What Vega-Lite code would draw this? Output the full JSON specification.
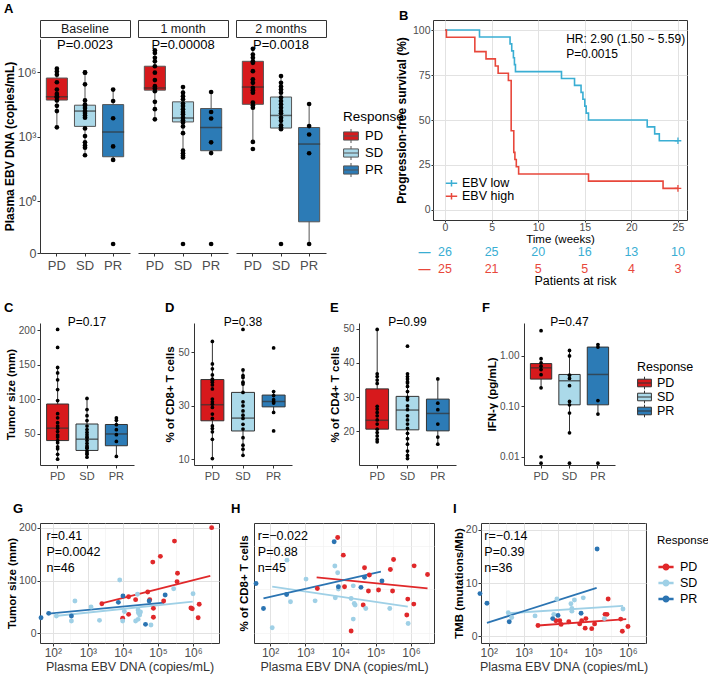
{
"$schema": "https://vega.github.io/schema/vega-lite/v6.json",
"padding": {"left": 3, "top": 2, "right": 0, "bottom": 2},
"config": {
 "font": "Liberation Sans",
 "view": {"stroke": null},
 "axis": {"labelColor": "#4D4D4D", "labelFontSize": 11, "tickColor": "#333333", "domainColor": "#333333", "tickSize": 3, "grid": false, "titleFontSize": 12, "titleFontWeight": "bold", "titleColor": "#000000"},
 "title": {"fontSize": 13, "fontWeight": "bold", "anchor": "start", "color": "#000000"},
 "legend": {"titleFontWeight": "normal", "titleColor": "#000000", "labelColor": "#000000"}
},
"resolve": {"scale": {"color": "independent", "fill": "independent"}, "legend": {"color": "independent", "fill": "independent"}},
"datasets": {
 "box": [
  {"panel":"Baseline","response":"PD","lo":2800,"q1":52000,"med":74000,"q3":550000,"hi":1500000},
  {"panel":"Baseline","response":"SD","lo":145,"q1":3100,"med":16000,"q3":30000,"hi":1000000},
  {"panel":"Baseline","response":"PR","lo":85,"q1":120,"med":1700,"q3":32000,"hi":160000},
  {"panel":"1 month","response":"PD","lo":6600,"q1":150000,"med":190000,"q3":1950000,"hi":10700000},
  {"panel":"1 month","response":"SD","lo":112,"q1":5000,"med":7600,"q3":43000,"hi":210000},
  {"panel":"1 month","response":"PR","lo":178,"q1":229,"med":2750,"q3":21000,"hi":123000},
  {"panel":"2 months","response":"PD","lo":590,"q1":33000,"med":210000,"q3":3300000,"hi":12600000},
  {"panel":"2 months","response":"SD","lo":2300,"q1":2600,"med":10000,"q3":72000,"hi":680000},
  {"panel":"2 months","response":"PR","lo":0.0065,"q1":0.109,"med":468,"q3":2750,"hi":36000},
  {"panel":"C","response":"PD","lo":13,"q1":40,"med":58,"q3":93,"hi":146},
  {"panel":"C","response":"SD","lo":16,"q1":25.7,"med":42,"q3":64,"hi":101},
  {"panel":"C","response":"PR","lo":17,"q1":32.5,"med":49.6,"q3":63.3,"hi":72.8},
  {"panel":"D","response":"PD","lo":10.3,"q1":24.4,"med":30.4,"q3":39.8,"hi":54},
  {"panel":"D","response":"SD","lo":11.5,"q1":20.6,"med":25.4,"q3":35,"hi":43.4},
  {"panel":"D","response":"PR","lo":27.5,"q1":29.6,"med":31.6,"q3":34,"hi":35.3},
  {"panel":"E","response":"PD","lo":16.9,"q1":20.6,"med":23.2,"q3":32.4,"hi":49.8},
  {"panel":"E","response":"SD","lo":12,"q1":20.4,"med":26.2,"q3":30.2,"hi":36.8},
  {"panel":"E","response":"PR","lo":16.2,"q1":20.1,"med":25.2,"q3":29.4,"hi":35.3},
  {"panel":"F","response":"PD","lo":0.226,"q1":0.343,"med":0.574,"q3":0.697,"hi":0.87},
  {"panel":"F","response":"SD","lo":0.0296,"q1":0.106,"med":0.318,"q3":0.424,"hi":1.27},
  {"panel":"F","response":"PR","lo":0.0697,"q1":0.106,"med":0.424,"q3":1.48,"hi":1.66}
 ],
 "pts": [
  {"panel":"Baseline","response":"PD","v":1500000},{"panel":"Baseline","response":"PD","v":1100000},{"panel":"Baseline","response":"PD","v":790000},{"panel":"Baseline","response":"PD","v":350000},{"panel":"Baseline","response":"PD","v":160000},{"panel":"Baseline","response":"PD","v":100000},{"panel":"Baseline","response":"PD","v":79000},{"panel":"Baseline","response":"PD","v":71000},{"panel":"Baseline","response":"PD","v":50000},{"panel":"Baseline","response":"PD","v":28000},{"panel":"Baseline","response":"PD","v":16000},{"panel":"Baseline","response":"PD","v":2800},
  {"panel":"Baseline","response":"SD","v":1000000},{"panel":"Baseline","response":"SD","v":980000},{"panel":"Baseline","response":"SD","v":280000},{"panel":"Baseline","response":"SD","v":50000},{"panel":"Baseline","response":"SD","v":32000},{"panel":"Baseline","response":"SD","v":28000},{"panel":"Baseline","response":"SD","v":22000},{"panel":"Baseline","response":"SD","v":16000},{"panel":"Baseline","response":"SD","v":13000},{"panel":"Baseline","response":"SD","v":10000},{"panel":"Baseline","response":"SD","v":7900},{"panel":"Baseline","response":"SD","v":2500},{"panel":"Baseline","response":"SD","v":1100},{"panel":"Baseline","response":"SD","v":560},{"panel":"Baseline","response":"SD","v":400},{"panel":"Baseline","response":"SD","v":316},{"panel":"Baseline","response":"SD","v":141},
  {"panel":"Baseline","response":"PR","v":160000},{"panel":"Baseline","response":"PR","v":47000},{"panel":"Baseline","response":"PR","v":7400},{"panel":"Baseline","response":"PR","v":363},{"panel":"Baseline","response":"PR","v":85},{"panel":"Baseline","response":"PR","v":0.0065},
  {"panel":"1 month","response":"PD","v":10700000},{"panel":"1 month","response":"PD","v":8100000},{"panel":"1 month","response":"PD","v":4800000},{"panel":"1 month","response":"PD","v":3300000},{"panel":"1 month","response":"PD","v":1950000},{"panel":"1 month","response":"PD","v":980000},{"panel":"1 month","response":"PD","v":440000},{"panel":"1 month","response":"PD","v":230000},{"panel":"1 month","response":"PD","v":180000},{"panel":"1 month","response":"PD","v":135000},{"panel":"1 month","response":"PD","v":43000},{"panel":"1 month","response":"PD","v":19500},{"panel":"1 month","response":"PD","v":6600},
  {"panel":"1 month","response":"SD","v":210000},{"panel":"1 month","response":"SD","v":115000},{"panel":"1 month","response":"SD","v":79000},{"panel":"1 month","response":"SD","v":56000},{"panel":"1 month","response":"SD","v":36000},{"panel":"1 month","response":"SD","v":27500},{"panel":"1 month","response":"SD","v":19500},{"panel":"1 month","response":"SD","v":14500},{"panel":"1 month","response":"SD","v":11500},{"panel":"1 month","response":"SD","v":7900},{"panel":"1 month","response":"SD","v":6000},{"panel":"1 month","response":"SD","v":4700},{"panel":"1 month","response":"SD","v":3100},{"panel":"1 month","response":"SD","v":1500},{"panel":"1 month","response":"SD","v":229},{"panel":"1 month","response":"SD","v":174},{"panel":"1 month","response":"SD","v":135},{"panel":"1 month","response":"SD","v":112},{"panel":"1 month","response":"SD","v":0.0065},
  {"panel":"1 month","response":"PR","v":123000},{"panel":"1 month","response":"PR","v":14500},{"panel":"1 month","response":"PR","v":7200},{"panel":"1 month","response":"PR","v":562},{"panel":"1 month","response":"PR","v":178},{"panel":"1 month","response":"PR","v":0.0065},
  {"panel":"2 months","response":"PD","v":12600000},{"panel":"2 months","response":"PD","v":6800000},{"panel":"2 months","response":"PD","v":4800000},{"panel":"2 months","response":"PD","v":3300000},{"panel":"2 months","response":"PD","v":2800000},{"panel":"2 months","response":"PD","v":1150000},{"panel":"2 months","response":"PD","v":480000},{"panel":"2 months","response":"PD","v":330000},{"panel":"2 months","response":"PD","v":195000},{"panel":"2 months","response":"PD","v":150000},{"panel":"2 months","response":"PD","v":115000},{"panel":"2 months","response":"PD","v":40000},{"panel":"2 months","response":"PD","v":30000},{"panel":"2 months","response":"PD","v":23000},{"panel":"2 months","response":"PD","v":590},{"panel":"2 months","response":"PD","v":275},
  {"panel":"2 months","response":"SD","v":680000},{"panel":"2 months","response":"SD","v":330000},{"panel":"2 months","response":"SD","v":220000},{"panel":"2 months","response":"SD","v":160000},{"panel":"2 months","response":"SD","v":115000},{"panel":"2 months","response":"SD","v":68000},{"panel":"2 months","response":"SD","v":47000},{"panel":"2 months","response":"SD","v":33000},{"panel":"2 months","response":"SD","v":23000},{"panel":"2 months","response":"SD","v":16000},{"panel":"2 months","response":"SD","v":12600},{"panel":"2 months","response":"SD","v":7900},{"panel":"2 months","response":"SD","v":5600},{"panel":"2 months","response":"SD","v":3500},{"panel":"2 months","response":"SD","v":2750},{"panel":"2 months","response":"SD","v":2300},{"panel":"2 months","response":"SD","v":0.0065},
  {"panel":"2 months","response":"PR","v":34000},{"panel":"2 months","response":"PR","v":3200},{"panel":"2 months","response":"PR","v":1300},{"panel":"2 months","response":"PR","v":174},{"panel":"2 months","response":"PR","v":0.0065},
  {"panel":"C","response":"PD","v":201},{"panel":"C","response":"PD","v":175},{"panel":"C","response":"PD","v":146},{"panel":"C","response":"PD","v":138},{"panel":"C","response":"PD","v":128},{"panel":"C","response":"PD","v":114},{"panel":"C","response":"PD","v":98},{"panel":"C","response":"PD","v":79},{"panel":"C","response":"PD","v":73},{"panel":"C","response":"PD","v":66},{"panel":"C","response":"PD","v":61},{"panel":"C","response":"PD","v":58},{"panel":"C","response":"PD","v":53},{"panel":"C","response":"PD","v":48},{"panel":"C","response":"PD","v":45},{"panel":"C","response":"PD","v":40},{"panel":"C","response":"PD","v":37},{"panel":"C","response":"PD","v":31},{"panel":"C","response":"PD","v":28},{"panel":"C","response":"PD","v":20},{"panel":"C","response":"PD","v":13},
  {"panel":"C","response":"SD","v":101},{"panel":"C","response":"SD","v":85},{"panel":"C","response":"SD","v":76},{"panel":"C","response":"SD","v":69},{"panel":"C","response":"SD","v":61},{"panel":"C","response":"SD","v":56},{"panel":"C","response":"SD","v":52},{"panel":"C","response":"SD","v":48.5},{"panel":"C","response":"SD","v":45},{"panel":"C","response":"SD","v":44},{"panel":"C","response":"SD","v":40},{"panel":"C","response":"SD","v":36},{"panel":"C","response":"SD","v":32.5},{"panel":"C","response":"SD","v":30},{"panel":"C","response":"SD","v":29},{"panel":"C","response":"SD","v":25},{"panel":"C","response":"SD","v":22},{"panel":"C","response":"SD","v":20},{"panel":"C","response":"SD","v":16},
  {"panel":"C","response":"PR","v":72.8},{"panel":"C","response":"PR","v":69.4},{"panel":"C","response":"PR","v":63.1},{"panel":"C","response":"PR","v":55.8},{"panel":"C","response":"PR","v":48.5},{"panel":"C","response":"PR","v":38.8},{"panel":"C","response":"PR","v":17},
  {"panel":"D","response":"PD","v":54},{"panel":"D","response":"PD","v":45.6},{"panel":"D","response":"PD","v":43.8},{"panel":"D","response":"PD","v":41.5},{"panel":"D","response":"PD","v":40},{"panel":"D","response":"PD","v":39.5},{"panel":"D","response":"PD","v":38.8},{"panel":"D","response":"PD","v":37.8},{"panel":"D","response":"PD","v":36.3},{"panel":"D","response":"PD","v":32.5},{"panel":"D","response":"PD","v":31.5},{"panel":"D","response":"PD","v":30.6},{"panel":"D","response":"PD","v":29.4},{"panel":"D","response":"PD","v":26.9},{"panel":"D","response":"PD","v":25.3},{"panel":"D","response":"PD","v":22.5},{"panel":"D","response":"PD","v":21.5},{"panel":"D","response":"PD","v":20.3},{"panel":"D","response":"PD","v":17.5},{"panel":"D","response":"PD","v":10.3},
  {"panel":"D","response":"SD","v":58.5},{"panel":"D","response":"SD","v":43.4},{"panel":"D","response":"SD","v":41.3},{"panel":"D","response":"SD","v":40.6},{"panel":"D","response":"SD","v":38.8},{"panel":"D","response":"SD","v":38.1},{"panel":"D","response":"SD","v":35},{"panel":"D","response":"SD","v":31.5},{"panel":"D","response":"SD","v":30},{"panel":"D","response":"SD","v":28.1},{"panel":"D","response":"SD","v":26.5},{"panel":"D","response":"SD","v":25.3},{"panel":"D","response":"SD","v":23.1},{"panel":"D","response":"SD","v":21.3},{"panel":"D","response":"SD","v":18.1},{"panel":"D","response":"SD","v":15.3},{"panel":"D","response":"SD","v":13.8},{"panel":"D","response":"SD","v":11.5},
  {"panel":"D","response":"PR","v":51.6},{"panel":"D","response":"PR","v":35.3},{"panel":"D","response":"PR","v":33.8},{"panel":"D","response":"PR","v":32.3},{"panel":"D","response":"PR","v":31.5},{"panel":"D","response":"PR","v":31},{"panel":"D","response":"PR","v":27.5},{"panel":"D","response":"PR","v":20.6},
  {"panel":"E","response":"PD","v":49.8},{"panel":"E","response":"PD","v":36.8},{"panel":"E","response":"PD","v":36},{"panel":"E","response":"PD","v":35},{"panel":"E","response":"PD","v":34},{"panel":"E","response":"PD","v":27.3},{"panel":"E","response":"PD","v":26.5},{"panel":"E","response":"PD","v":25.5},{"panel":"E","response":"PD","v":24.5},{"panel":"E","response":"PD","v":23.3},{"panel":"E","response":"PD","v":22.1},{"panel":"E","response":"PD","v":20.6},{"panel":"E","response":"PD","v":19.6},{"panel":"E","response":"PD","v":18.6},{"panel":"E","response":"PD","v":17.6},{"panel":"E","response":"PD","v":16.9},
  {"panel":"E","response":"SD","v":44.9},{"panel":"E","response":"SD","v":36.8},{"panel":"E","response":"SD","v":36},{"panel":"E","response":"SD","v":35.3},{"panel":"E","response":"SD","v":34.5},{"panel":"E","response":"SD","v":34.1},{"panel":"E","response":"SD","v":33.1},{"panel":"E","response":"SD","v":31.6},{"panel":"E","response":"SD","v":29.9},{"panel":"E","response":"SD","v":29.2},{"panel":"E","response":"SD","v":27.4},{"panel":"E","response":"SD","v":26.3},{"panel":"E","response":"SD","v":24.5},{"panel":"E","response":"SD","v":23.3},{"panel":"E","response":"SD","v":22.1},{"panel":"E","response":"SD","v":20.8},{"panel":"E","response":"SD","v":19.4},{"panel":"E","response":"SD","v":17.8},{"panel":"E","response":"SD","v":16.2},{"panel":"E","response":"SD","v":14.2},{"panel":"E","response":"SD","v":12.9},{"panel":"E","response":"SD","v":12},
  {"panel":"E","response":"PR","v":35.3},{"panel":"E","response":"PR","v":28.2},{"panel":"E","response":"PR","v":26.3},{"panel":"E","response":"PR","v":22.1},{"panel":"E","response":"PR","v":18.3},{"panel":"E","response":"PR","v":16.2},
  {"panel":"F","response":"PD","v":3.13},{"panel":"F","response":"PD","v":0.87},{"panel":"F","response":"PD","v":0.72},{"panel":"F","response":"PD","v":0.62},{"panel":"F","response":"PD","v":0.53},{"panel":"F","response":"PD","v":0.42},{"panel":"F","response":"PD","v":0.23},{"panel":"F","response":"PD","v":0.0099},{"panel":"F","response":"PD","v":0.0074},
  {"panel":"F","response":"SD","v":1.27},{"panel":"F","response":"SD","v":0.986},{"panel":"F","response":"SD","v":0.411},{"panel":"F","response":"SD","v":0.354},{"panel":"F","response":"SD","v":0.254},{"panel":"F","response":"SD","v":0.124},{"panel":"F","response":"SD","v":0.106},{"panel":"F","response":"SD","v":0.073},{"panel":"F","response":"SD","v":0.0296},{"panel":"F","response":"SD","v":0.0074},
  {"panel":"F","response":"PR","v":1.66},{"panel":"F","response":"PR","v":1.48},{"panel":"F","response":"PR","v":0.129},{"panel":"F","response":"PR","v":0.0697},{"panel":"F","response":"PR","v":0.0074}
 ],
 "km": [
  {"group":"EBV low","t":0,"s":100},{"group":"EBV low","t":3.7,"s":96.15},{"group":"EBV low","t":6.98,"s":92.31},{"group":"EBV low","t":7.16,"s":88.46},{"group":"EBV low","t":7.34,"s":84.62},{"group":"EBV low","t":7.45,"s":80.77},{"group":"EBV low","t":7.56,"s":76.92},{"group":"EBV low","t":12.5,"s":73.08},{"group":"EBV low","t":13.9,"s":69.23},{"group":"EBV low","t":14.6,"s":65.38},{"group":"EBV low","t":14.8,"s":61.54},{"group":"EBV low","t":15.0,"s":57.69},{"group":"EBV low","t":15.15,"s":53.85},{"group":"EBV low","t":15.4,"s":50},{"group":"EBV low","t":21.7,"s":46.15},{"group":"EBV low","t":22.5,"s":42.31},{"group":"EBV low","t":23.0,"s":38.46},{"group":"EBV low","t":25,"s":38.46},
  {"group":"EBV high","t":0,"s":100},{"group":"EBV high","t":0.15,"s":96},{"group":"EBV high","t":3.2,"s":88},{"group":"EBV high","t":4.4,"s":84},{"group":"EBV high","t":5.4,"s":80},{"group":"EBV high","t":5.7,"s":76},{"group":"EBV high","t":6.8,"s":72},{"group":"EBV high","t":7.1,"s":44},{"group":"EBV high","t":7.38,"s":32},{"group":"EBV high","t":7.5,"s":28},{"group":"EBV high","t":7.65,"s":24},{"group":"EBV high","t":7.9,"s":20},{"group":"EBV high","t":15.4,"s":16},{"group":"EBV high","t":23.4,"s":12},{"group":"EBV high","t":25,"s":12}
 ],
 "cens": [{"group":"EBV low","t":25,"s":38.46},{"group":"EBV high","t":25,"s":12}],
 "risk": [
  {"group":"EBV low","t":0,"n":26},{"group":"EBV low","t":5,"n":25},{"group":"EBV low","t":10,"n":20},{"group":"EBV low","t":15,"n":16},{"group":"EBV low","t":20,"n":13},{"group":"EBV low","t":25,"n":10},
  {"group":"EBV high","t":0,"n":25},{"group":"EBV high","t":5,"n":21},{"group":"EBV high","t":10,"n":5},{"group":"EBV high","t":15,"n":5},{"group":"EBV high","t":20,"n":4},{"group":"EBV high","t":25,"n":3}
 ],
 "sc": [
  {"panel":"G","response":"PD","ebv":3400000,"y":200.6},{"panel":"G","response":"PD","ebv":295000,"y":175},{"panel":"G","response":"PD","ebv":71000,"y":135},{"panel":"G","response":"PD","ebv":117000,"y":146},{"panel":"G","response":"PD","ebv":360000,"y":113.7},{"panel":"G","response":"PD","ebv":350000,"y":97.8},{"panel":"G","response":"PD","ebv":51000,"y":78},{"panel":"G","response":"PD","ebv":23000,"y":63.5},{"panel":"G","response":"PD","ebv":58000,"y":63.5},{"panel":"G","response":"PD","ebv":145000,"y":61},{"panel":"G","response":"PD","ebv":2500,"y":55.8},{"panel":"G","response":"PD","ebv":14500,"y":69.2},{"panel":"G","response":"PD","ebv":9800,"y":28},{"panel":"G","response":"PD","ebv":14500,"y":35.6},{"panel":"G","response":"PD","ebv":74000,"y":47},{"panel":"G","response":"PD","ebv":74000,"y":30},{"panel":"G","response":"PD","ebv":870000,"y":47.6},{"panel":"G","response":"PD","ebv":950000,"y":46.3},{"panel":"G","response":"PD","ebv":1400000,"y":29.2},{"panel":"G","response":"PD","ebv":1500000,"y":54.7},
  {"panel":"G","response":"SD","ebv":8100,"y":101},{"panel":"G","response":"SD","ebv":126,"y":32.4},{"panel":"G","response":"SD","ebv":427,"y":61},{"panel":"G","response":"SD","ebv":339,"y":22.9},{"panel":"G","response":"SD","ebv":1230,"y":49.5},{"panel":"G","response":"SD","ebv":2140,"y":24.1},{"panel":"G","response":"SD","ebv":9800,"y":22.9},{"panel":"G","response":"SD","ebv":26000,"y":73.7},{"panel":"G","response":"SD","ebv":27000,"y":43.8},{"panel":"G","response":"SD","ebv":27500,"y":38.7},{"panel":"G","response":"SD","ebv":30000,"y":34.3},{"panel":"G","response":"SD","ebv":31600,"y":40},{"panel":"G","response":"SD","ebv":23000,"y":22.9},{"panel":"G","response":"SD","ebv":27000,"y":26},{"panel":"G","response":"SD","ebv":63000,"y":15.2},{"panel":"G","response":"SD","ebv":280000,"y":84.4},{"panel":"G","response":"SD","ebv":1000000,"y":74.9},{"panel":"G","response":"SD","ebv":11000,"y":41},
  {"panel":"G","response":"PR","ebv":46,"y":29.2},{"panel":"G","response":"PR","ebv":76,"y":37.5},{"panel":"G","response":"PR","ebv":339,"y":32.4},{"panel":"G","response":"PR","ebv":7400,"y":58.4},{"panel":"G","response":"PR","ebv":10000,"y":70.5},{"panel":"G","response":"PR","ebv":44000,"y":16.5},{"panel":"G","response":"PR","ebv":56000,"y":61},{"panel":"G","response":"PR","ebv":160000,"y":72.4},
  {"panel":"H","response":"PD","ebv":8300,"y":53.8},{"panel":"H","response":"PD","ebv":12000,"y":45.7},{"panel":"H","response":"PD","ebv":48000,"y":39.9},{"panel":"H","response":"PD","ebv":66000,"y":36.6},{"panel":"H","response":"PD","ebv":320000,"y":43.7},{"panel":"H","response":"PD","ebv":260000,"y":39.1},{"panel":"H","response":"PD","ebv":1230000,"y":40.8},{"panel":"H","response":"PD","ebv":2950000,"y":36.8},{"panel":"H","response":"PD","ebv":2200,"y":30.4},{"panel":"H","response":"PD","ebv":13000,"y":31.2},{"panel":"H","response":"PD","ebv":62000,"y":29.2},{"panel":"H","response":"PD","ebv":120000,"y":29.7},{"panel":"H","response":"PD","ebv":300000,"y":29.2},{"panel":"H","response":"PD","ebv":810000,"y":25.5},{"panel":"H","response":"PD","ebv":1200000,"y":23.2},{"panel":"H","response":"PD","ebv":44000,"y":22.8},{"panel":"H","response":"PD","ebv":760000,"y":18.2},{"panel":"H","response":"PD","ebv":20000,"y":10.8},
  {"panel":"H","response":"SD","ebv":302,"y":43.4},{"panel":"H","response":"SD","ebv":115,"y":12.3},{"panel":"H","response":"SD","ebv":380,"y":24.3},{"panel":"H","response":"SD","ebv":1050,"y":34.7},{"panel":"H","response":"SD","ebv":1900,"y":24.7},{"panel":"H","response":"SD","ebv":6900,"y":40.7},{"panel":"H","response":"SD","ebv":8300,"y":37.6},{"panel":"H","response":"SD","ebv":7100,"y":26.1},{"panel":"H","response":"SD","ebv":8700,"y":30.1},{"panel":"H","response":"SD","ebv":20000,"y":25.8},{"panel":"H","response":"SD","ebv":23000,"y":31.6},{"panel":"H","response":"SD","ebv":24500,"y":23.5},{"panel":"H","response":"SD","ebv":26000,"y":22.8},{"panel":"H","response":"SD","ebv":23000,"y":16.3},{"panel":"H","response":"SD","ebv":52000,"y":21.2},{"panel":"H","response":"SD","ebv":250000,"y":21.2},{"panel":"H","response":"SD","ebv":830000,"y":14.3},
  {"panel":"H","response":"PR","ebv":40,"y":32.7},{"panel":"H","response":"PR","ebv":65,"y":21.2},{"panel":"H","response":"PR","ebv":295,"y":27.6},{"panel":"H","response":"PR","ebv":6600,"y":51.9},{"panel":"H","response":"PR","ebv":8700,"y":31.2},{"panel":"H","response":"PR","ebv":38000,"y":30.9},{"panel":"H","response":"PR","ebv":48000,"y":35.5},{"panel":"H","response":"PR","ebv":150000,"y":33.8},
  {"panel":"I","response":"PD","ebv":2600,"y":2.0},{"panel":"I","response":"PD","ebv":8500,"y":2.9},{"panel":"I","response":"PD","ebv":12000,"y":2.2},{"panel":"I","response":"PD","ebv":20000,"y":2.7},{"panel":"I","response":"PD","ebv":41000,"y":2.3},{"panel":"I","response":"PD","ebv":47000,"y":2.9},{"panel":"I","response":"PD","ebv":62000,"y":3.3},{"panel":"I","response":"PD","ebv":59000,"y":1.5},{"panel":"I","response":"PD","ebv":91000,"y":1.4},{"panel":"I","response":"PD","ebv":110000,"y":2.3},{"panel":"I","response":"PD","ebv":220000,"y":4.1},{"panel":"I","response":"PD","ebv":250000,"y":4.1},{"panel":"I","response":"PD","ebv":270000,"y":7.0},{"panel":"I","response":"PD","ebv":620000,"y":3.2},{"panel":"I","response":"PD","ebv":690000,"y":0.9},{"panel":"I","response":"PD","ebv":1000000,"y":1.8},{"panel":"I","response":"PD","ebv":11000,"y":2.9},
  {"panel":"I","response":"SD","ebv":363,"y":4.4},{"panel":"I","response":"SD","ebv":457,"y":3.5},{"panel":"I","response":"SD","ebv":2140,"y":3.8},{"panel":"I","response":"SD","ebv":9100,"y":7.0},{"panel":"I","response":"SD","ebv":7400,"y":4.1},{"panel":"I","response":"SD","ebv":23000,"y":6.1},{"panel":"I","response":"SD","ebv":29000,"y":6.8},{"panel":"I","response":"SD","ebv":24500,"y":5.2},{"panel":"I","response":"SD","ebv":24500,"y":4.7},{"panel":"I","response":"SD","ebv":52000,"y":7.2},{"panel":"I","response":"SD","ebv":210000,"y":3.3},{"panel":"I","response":"SD","ebv":720000,"y":5.1},
  {"panel":"I","response":"PR","ebv":56,"y":8.0},{"panel":"I","response":"PR","ebv":89,"y":6.2},{"panel":"I","response":"PR","ebv":389,"y":2.7},{"panel":"I","response":"PR","ebv":6900,"y":3.3},{"panel":"I","response":"PR","ebv":9800,"y":3.9},{"panel":"I","response":"PR","ebv":45000,"y":4.3},{"panel":"I","response":"PR","ebv":130000,"y":16.4}
 ],
 "fit": [
  {"panel":"G","response":"PD","ebv":2300,"y":55.8},{"panel":"G","response":"PD","ebv":3100000,"y":108.6},
  {"panel":"G","response":"SD","ebv":117,"y":32.4},{"panel":"G","response":"SD","ebv":980000,"y":59.6},
  {"panel":"G","response":"PR","ebv":76,"y":36.8},{"panel":"G","response":"PR","ebv":150000,"y":57.7},
  {"panel":"H","response":"PD","ebv":2100,"y":35.5},{"panel":"H","response":"PD","ebv":2950000,"y":30.4},
  {"panel":"H","response":"SD","ebv":115,"y":31.2},{"panel":"H","response":"SD","ebv":810000,"y":22.0},
  {"panel":"H","response":"PR","ebv":65,"y":25.8},{"panel":"H","response":"PR","ebv":140000,"y":38.1},
  {"panel":"I","response":"PD","ebv":2600,"y":2.0},{"panel":"I","response":"PD","ebv":890000,"y":3.2},
  {"panel":"I","response":"SD","ebv":363,"y":4.3},{"panel":"I","response":"SD","ebv":720000,"y":5.7},
  {"panel":"I","response":"PR","ebv":89,"y":2.5},{"panel":"I","response":"PR","ebv":126000,"y":9.1}
 ]
},
"vconcat": [
 {"hconcat": [
  {"hconcat": [
   {"vconcat": [
    {"width": 90, "height": 17, "view": {"stroke": "#333333", "fill": "#FFFFFF"},
     "title": {"text": "A", "frame": "group", "anchor": "start", "dx": -36, "offset": 4},
     "data": {"values": [{"time": "Baseline"}]}, "mark": {"type": "text", "fontSize": 12.5, "color": "#1A1A1A"}, "encoding": {"text": {"field": "time"}}},
    {"width": 90, "height": 214,
     "layer": [
      {"data": {"name": "box"}, "transform": [{"filter": "datum.panel === 'Baseline'"}], "mark": {"type": "rule", "color": "#555555"},
       "encoding": {"x": {"field": "response", "type": "nominal", "sort": ["PD","SD","PR"], "scale": {"paddingInner": 0, "paddingOuter": 0.1}, "axis": {"title": null, "labelAngle": 0, "labelFontSize": 13, "labelPadding": 3}},
        "y": {"field": "lo", "type": "quantitative", "scale": {"type": "symlog", "constant": 0.004, "domain": [0, 36000000], "nice": false, "zero": false}, "axis": {"title": "Plasma EBV DNA (copies/mL)", "values": [0, 1, 1000, 1000000], "labelExpr": "datum.value === 0 ? '0' : datum.value === 1 ? '10⁰' : datum.value === 1000 ? '10³' : '10⁶'", "labelFontSize": 12.5, "labelPadding": 1, "titleFontSize": 12, "titlePadding": 0}},
        "y2": {"field": "hi"}}},
      {"data": {"name": "box"}, "transform": [{"filter": "datum.panel === 'Baseline'"}], "mark": {"type": "bar", "stroke": "#555555", "strokeWidth": 1, "width": {"band": 0.75}},
       "encoding": {"x": {"field": "response", "type": "nominal", "sort": ["PD","SD","PR"]}, "y": {"field": "q1", "type": "quantitative"}, "y2": {"field": "q3"}, "fill": {"field": "response", "type": "nominal", "scale": {"domain": ["PD","SD","PR"], "range": ["#D7191C","#ABD9E9","#2C7BB6"]}, "legend": null}}},
      {"data": {"name": "box"}, "transform": [{"filter": "datum.panel === 'Baseline'"}], "mark": {"type": "tick", "color": "#333333", "thickness": 1.5, "size": 22},
       "encoding": {"x": {"field": "response", "type": "nominal", "sort": ["PD","SD","PR"]}, "y": {"field": "med", "type": "quantitative"}}},
      {"data": {"name": "pts"}, "transform": [{"filter": "datum.panel === 'Baseline'"}], "mark": {"type": "circle", "color": "#000000", "opacity": 1, "size": 22},
       "encoding": {"x": {"field": "response", "type": "nominal", "sort": ["PD","SD","PR"]}, "y": {"field": "v", "type": "quantitative"}}},
      {"data": {"values": [{"p": "P=0.0023"}]}, "mark": {"type": "text", "fontSize": 13}, "encoding": {"text": {"field": "p"}, "y": {"datum": 18900000}}}
     ]}
   ], "spacing": 2, "bounds": "flush", "resolve": {"scale": {"color": "independent", "fill": "independent"}, "legend": {"color": "independent", "fill": "independent"}}},
   {"vconcat": [
    {"width": 90, "height": 17, "view": {"stroke": "#333333", "fill": "#FFFFFF"},
     "data": {"values": [{"time": "1 month"}]}, "mark": {"type": "text", "fontSize": 12.5, "color": "#1A1A1A"}, "encoding": {"text": {"field": "time"}}},
    {"width": 90, "height": 214,
     "layer": [
      {"data": {"name": "box"}, "transform": [{"filter": "datum.panel === '1 month'"}], "mark": {"type": "rule", "color": "#555555"},
       "encoding": {"x": {"field": "response", "type": "nominal", "sort": ["PD","SD","PR"], "scale": {"paddingInner": 0, "paddingOuter": 0.1}, "axis": {"title": null, "labelAngle": 0, "labelFontSize": 13, "labelPadding": 3}},
        "y": {"field": "lo", "type": "quantitative", "scale": {"type": "symlog", "constant": 0.004, "domain": [0, 36000000], "nice": false, "zero": false}, "axis": null},
        "y2": {"field": "hi"}}},
      {"data": {"name": "box"}, "transform": [{"filter": "datum.panel === '1 month'"}], "mark": {"type": "bar", "stroke": "#555555", "strokeWidth": 1, "width": {"band": 0.75}},
       "encoding": {"x": {"field": "response", "type": "nominal", "sort": ["PD","SD","PR"]}, "y": {"field": "q1", "type": "quantitative", "axis": null}, "y2": {"field": "q3"}, "fill": {"field": "response", "type": "nominal", "scale": {"domain": ["PD","SD","PR"], "range": ["#D7191C","#ABD9E9","#2C7BB6"]}, "legend": null}}},
      {"data": {"name": "box"}, "transform": [{"filter": "datum.panel === '1 month'"}], "mark": {"type": "tick", "color": "#333333", "thickness": 1.5, "size": 22},
       "encoding": {"x": {"field": "response", "type": "nominal", "sort": ["PD","SD","PR"]}, "y": {"field": "med", "type": "quantitative", "axis": null}}},
      {"data": {"name": "pts"}, "transform": [{"filter": "datum.panel === '1 month'"}], "mark": {"type": "circle", "color": "#000000", "opacity": 1, "size": 22},
       "encoding": {"x": {"field": "response", "type": "nominal", "sort": ["PD","SD","PR"]}, "y": {"field": "v", "type": "quantitative", "axis": null}}},
      {"data": {"values": [{"p": "P=0.00008"}]}, "mark": {"type": "text", "fontSize": 13}, "encoding": {"text": {"field": "p"}, "y": {"datum": 18900000, "axis": null}}}
     ]}
   ], "spacing": 2, "bounds": "flush", "resolve": {"scale": {"color": "independent", "fill": "independent"}, "legend": {"color": "independent", "fill": "independent"}}},
   {"vconcat": [
    {"width": 90, "height": 17, "view": {"stroke": "#333333", "fill": "#FFFFFF"},
     "data": {"values": [{"time": "2 months"}]}, "mark": {"type": "text", "fontSize": 12.5, "color": "#1A1A1A"}, "encoding": {"text": {"field": "time"}}},
    {"width": 90, "height": 214,
     "layer": [
      {"data": {"name": "box"}, "transform": [{"filter": "datum.panel === '2 months'"}], "mark": {"type": "rule", "color": "#555555"},
       "encoding": {"x": {"field": "response", "type": "nominal", "sort": ["PD","SD","PR"], "scale": {"paddingInner": 0, "paddingOuter": 0.1}, "axis": {"title": null, "labelAngle": 0, "labelFontSize": 13, "labelPadding": 3}},
        "y": {"field": "lo", "type": "quantitative", "scale": {"type": "symlog", "constant": 0.004, "domain": [0, 36000000], "nice": false, "zero": false}, "axis": null},
        "y2": {"field": "hi"}}},
      {"data": {"name": "box"}, "transform": [{"filter": "datum.panel === '2 months'"}], "mark": {"type": "bar", "stroke": "#555555", "strokeWidth": 1, "width": {"band": 0.75}},
       "encoding": {"x": {"field": "response", "type": "nominal", "sort": ["PD","SD","PR"]}, "y": {"field": "q1", "type": "quantitative", "axis": null}, "y2": {"field": "q3"},
        "fill": {"field": "response", "type": "nominal", "scale": {"domain": ["PD","SD","PR"], "range": ["#D7191C","#ABD9E9","#2C7BB6"]},
         "legend": {"title": "Response", "orient": "none", "legendX": 107, "legendY": 71, "symbolType": "M-1,-0.55H1V0.55H-1Z M-1,0H1 M0,-0.55V-0.95 M0,0.55V0.95", "symbolSize": 220, "symbolStrokeWidth": 1, "symbolStrokeColor": "#555555", "titleFontSize": 13.5, "labelFontSize": 13, "titlePadding": 5, "rowPadding": 2, "clipHeight": 15, "labelOffset": 6}}}},
      {"data": {"name": "box"}, "transform": [{"filter": "datum.panel === '2 months'"}], "mark": {"type": "tick", "color": "#333333", "thickness": 1.5, "size": 22},
       "encoding": {"x": {"field": "response", "type": "nominal", "sort": ["PD","SD","PR"]}, "y": {"field": "med", "type": "quantitative", "axis": null}}},
      {"data": {"name": "pts"}, "transform": [{"filter": "datum.panel === '2 months'"}], "mark": {"type": "circle", "color": "#000000", "opacity": 1, "size": 22},
       "encoding": {"x": {"field": "response", "type": "nominal", "sort": ["PD","SD","PR"]}, "y": {"field": "v", "type": "quantitative", "axis": null}}},
      {"data": {"values": [{"p": "P=0.0018"}]}, "mark": {"type": "text", "fontSize": 13}, "encoding": {"text": {"field": "p"}, "y": {"datum": 18900000, "axis": null}}}
     ]}
   ], "spacing": 2, "bounds": "flush", "resolve": {"scale": {"color": "independent", "fill": "independent"}, "legend": {"color": "independent", "fill": "independent"}}}
  ], "spacing": 6, "resolve": {"scale": {"color": "independent", "fill": "independent"}, "legend": {"color": "independent", "fill": "independent"}}},
  {"vconcat": [
   {"width": 254, "height": 200, "view": {"stroke": "#333333"},
    "title": {"text": "B", "frame": "group", "anchor": "start", "dx": -34, "offset": -3},
    "layer": [
     {"data": {"name": "km"}, "mark": {"type": "line", "interpolate": "step-after", "strokeWidth": 1.6},
      "encoding": {
       "x": {"field": "t", "type": "quantitative", "scale": {"domain": [-1.29, 25.97], "nice": false, "zero": false},
        "axis": {"title": "Time (weeks)", "titleFontWeight": "normal", "titleFontSize": 11.5, "titlePadding": 1, "values": [0,2.5,5,7.5,10,12.5,15,17.5,20,22.5,25], "labelExpr": "datum.value % 5 === 0 ? datum.label : ''", "grid": true, "gridColor": {"condition": {"test": "datum.value % 5 === 0", "value": "#E2E2E2"}, "value": "#F0F0F0"}, "gridWidth": {"condition": {"test": "datum.value % 5 === 0", "value": 1}, "value": 0.6}, "tickOpacity": {"condition": {"test": "datum.value % 5 === 0", "value": 1}, "value": 0}, "domain": false, "labelFontSize": 10.5, "labelPadding": 0, "tickSize": 2}},
       "y": {"field": "s", "type": "quantitative", "scale": {"domain": [-5.6, 105.6], "nice": false, "zero": false},
        "axis": {"title": "Progression-free survival (%)", "titleFontSize": 12, "titlePadding": 4, "values": [0,12.5,25,37.5,50,62.5,75,87.5,100], "labelExpr": "datum.value % 25 === 0 ? datum.label : ''", "grid": true, "gridColor": {"condition": {"test": "datum.value % 25 === 0", "value": "#E2E2E2"}, "value": "#F0F0F0"}, "gridWidth": {"condition": {"test": "datum.value % 25 === 0", "value": 1}, "value": 0.6}, "tickOpacity": {"condition": {"test": "datum.value % 25 === 0", "value": 1}, "value": 0}, "domain": false, "labelFontSize": 10.5, "labelPadding": 1, "tickSize": 2}},
       "color": {"field": "group", "type": "nominal", "scale": {"domain": ["EBV low","EBV high"], "range": ["#3AAED3","#E8473B"]},
        "legend": {"title": null, "orient": "none", "legendX": 12, "legendY": 157, "symbolType": "M-1,0H1M0,-0.55V0.55", "symbolSize": 130, "symbolStrokeWidth": 1.5, "labelFontSize": 12.5, "rowPadding": 0, "clipHeight": 12.5, "labelOffset": 4}}}},
     {"data": {"name": "cens"}, "mark": {"type": "point", "shape": "M-1,0H1M0,-1V1", "filled": false, "size": 45, "strokeWidth": 1.3, "opacity": 1},
      "encoding": {"x": {"field": "t", "type": "quantitative"}, "y": {"field": "s", "type": "quantitative"}, "color": {"field": "group", "type": "nominal", "legend": null}}},
     {"data": {"values": [{"t": 13, "s": 95, "label": "HR: 2.90 (1.50 ~ 5.59)"}, {"t": 13, "s": 86.7, "label": "P=0.0015"}]}, "mark": {"type": "text", "align": "left", "fontSize": 12},
      "encoding": {"x": {"field": "t", "type": "quantitative"}, "y": {"field": "s", "type": "quantitative"}, "text": {"field": "label"}}}
    ]},
   {"width": 254, "height": 34, "data": {"name": "risk"}, "mark": {"type": "text", "fontSize": 12.5},
    "encoding": {
     "x": {"field": "t", "type": "quantitative", "scale": {"domain": [-1.29, 25.97], "nice": false, "zero": false}, "axis": {"title": "Patients at risk", "titleFontWeight": "normal", "titleFontSize": 12.5, "labels": false, "ticks": false, "domain": false, "grid": false, "titlePadding": -3, "titleX": 142}},
     "y": {"field": "group", "type": "nominal", "sort": ["EBV low","EBV high"], "scale": {"paddingInner": 0, "paddingOuter": 0}, "axis": {"title": null, "labelExpr": "'—'", "labelColor": {"condition": {"test": "datum.value === 'EBV low'", "value": "#3AAED3"}, "value": "#E8473B"}, "labelFontWeight": "bold", "labelFontSize": 12, "ticks": false, "domain": false, "labelPadding": 3}},
     "text": {"field": "n", "type": "quantitative"},
     "color": {"field": "group", "type": "nominal", "scale": {"domain": ["EBV low","EBV high"], "range": ["#3AAED3","#E8473B"]}, "legend": null}}}
  ], "spacing": 23, "bounds": "flush", "resolve": {"scale": {"color": "independent", "fill": "independent"}, "legend": {"color": "independent", "fill": "independent"}}}
 ], "spacing": -10, "resolve": {"scale": {"color": "independent", "fill": "independent"}, "legend": {"color": "independent", "fill": "independent"}}},
 {"vconcat": [
 {"hconcat": [
  {"width": 94, "height": 142, "title": {"text": "C", "frame": "group", "anchor": "start", "dx": -36, "offset": 1},
   "layer": [
    {"data": {"name": "box"}, "transform": [{"filter": "datum.panel === 'C'"}], "mark": {"type": "rule", "color": "#333333"},
     "encoding": {"x": {"field": "response", "type": "nominal", "sort": ["PD","SD","PR"], "scale": {"paddingInner": 0, "paddingOuter": 0.1}, "axis": {"title": null, "labelAngle": 0, "labelFontSize": 11, "labelPadding": 2}},
      "y": {"field": "lo", "type": "quantitative", "scale": {"domain": [4.6, 210.4], "nice": false, "zero": false}, "axis": {"title": "Tumor size (mm)", "values": [50,100,150,200], "labelFontSize": 10, "titleFontSize": 11.5, "titlePadding": 2}},
      "y2": {"field": "hi"}}},
    {"data": {"name": "box"}, "transform": [{"filter": "datum.panel === 'C'"}], "mark": {"type": "bar", "stroke": "#333333", "strokeWidth": 1, "width": {"band": 0.75}},
     "encoding": {"x": {"field": "response", "type": "nominal", "sort": ["PD","SD","PR"]}, "y": {"field": "q1", "type": "quantitative"}, "y2": {"field": "q3"}, "fill": {"field": "response", "type": "nominal", "scale": {"domain": ["PD","SD","PR"], "range": ["#D7191C","#ABD9E9","#2C7BB6"]}, "legend": null}}},
    {"data": {"name": "box"}, "transform": [{"filter": "datum.panel === 'C'"}], "mark": {"type": "tick", "color": "#333333", "thickness": 1.5, "size": 22},
     "encoding": {"x": {"field": "response", "type": "nominal", "sort": ["PD","SD","PR"]}, "y": {"field": "med", "type": "quantitative"}}},
    {"data": {"name": "pts"}, "transform": [{"filter": "datum.panel === 'C'"}], "mark": {"type": "circle", "color": "#000000", "opacity": 1, "size": 14},
     "encoding": {"x": {"field": "response", "type": "nominal", "sort": ["PD","SD","PR"]}, "y": {"field": "v", "type": "quantitative"}}},
    {"data": {"values": [{"p": "P=0.17"}]}, "mark": {"type": "text", "fontSize": 12}, "encoding": {"text": {"field": "p"}, "y": {"datum": 212}}}
   ]},
  {"width": 36, "height": 142, "data": {"values": []}, "mark": {"type": "point", "opacity": 0}, "encoding": {}},
  {"width": 98, "height": 142, "title": {"text": "D", "frame": "group", "anchor": "start", "dx": -29, "offset": 1},
   "layer": [
    {"data": {"name": "box"}, "transform": [{"filter": "datum.panel === 'D'"}], "mark": {"type": "rule", "color": "#333333"},
     "encoding": {"x": {"field": "response", "type": "nominal", "sort": ["PD","SD","PR"], "scale": {"paddingInner": 0, "paddingOuter": 0.1}, "axis": {"title": null, "labelAngle": 0, "labelFontSize": 11, "labelPadding": 2}},
      "y": {"field": "lo", "type": "quantitative", "scale": {"domain": [7.9, 60.9], "nice": false, "zero": false}, "axis": {"title": "% of CD8+ T cells", "values": [10,20,30,40,50,60], "labelFontSize": 10, "titleFontSize": 11.5, "titlePadding": 2}},
      "y2": {"field": "hi"}}},
    {"data": {"name": "box"}, "transform": [{"filter": "datum.panel === 'D'"}], "mark": {"type": "bar", "stroke": "#333333", "strokeWidth": 1, "width": {"band": 0.75}},
     "encoding": {"x": {"field": "response", "type": "nominal", "sort": ["PD","SD","PR"]}, "y": {"field": "q1", "type": "quantitative"}, "y2": {"field": "q3"}, "fill": {"field": "response", "type": "nominal", "scale": {"domain": ["PD","SD","PR"], "range": ["#D7191C","#ABD9E9","#2C7BB6"]}, "legend": null}}},
    {"data": {"name": "box"}, "transform": [{"filter": "datum.panel === 'D'"}], "mark": {"type": "tick", "color": "#333333", "thickness": 1.5, "size": 23},
     "encoding": {"x": {"field": "response", "type": "nominal", "sort": ["PD","SD","PR"]}, "y": {"field": "med", "type": "quantitative"}}},
    {"data": {"name": "pts"}, "transform": [{"filter": "datum.panel === 'D'"}], "mark": {"type": "circle", "color": "#000000", "opacity": 1, "size": 14},
     "encoding": {"x": {"field": "response", "type": "nominal", "sort": ["PD","SD","PR"]}, "y": {"field": "v", "type": "quantitative"}}},
    {"data": {"values": [{"p": "P=0.38"}]}, "mark": {"type": "text", "fontSize": 12}, "encoding": {"text": {"field": "p"}, "y": {"datum": 61.4}}}
   ]},
  {"width": 43, "height": 142, "data": {"values": []}, "mark": {"type": "point", "opacity": 0}, "encoding": {}},
  {"width": 97, "height": 142, "title": {"text": "E", "frame": "group", "anchor": "start", "dx": -29, "offset": 1},
   "layer": [
    {"data": {"name": "box"}, "transform": [{"filter": "datum.panel === 'E'"}], "mark": {"type": "rule", "color": "#333333"},
     "encoding": {"x": {"field": "response", "type": "nominal", "sort": ["PD","SD","PR"], "scale": {"paddingInner": 0, "paddingOuter": 0.1}, "axis": {"title": null, "labelAngle": 0, "labelFontSize": 11, "labelPadding": 2}},
      "y": {"field": "lo", "type": "quantitative", "scale": {"domain": [10.1, 51.7], "nice": false, "zero": false}, "axis": {"title": "% of CD4+ T cells", "values": [10,20,30,40,50], "labelFontSize": 10, "titleFontSize": 11.5, "titlePadding": 2}},
      "y2": {"field": "hi"}}},
    {"data": {"name": "box"}, "transform": [{"filter": "datum.panel === 'E'"}], "mark": {"type": "bar", "stroke": "#333333", "strokeWidth": 1, "width": {"band": 0.75}},
     "encoding": {"x": {"field": "response", "type": "nominal", "sort": ["PD","SD","PR"]}, "y": {"field": "q1", "type": "quantitative"}, "y2": {"field": "q3"}, "fill": {"field": "response", "type": "nominal", "scale": {"domain": ["PD","SD","PR"], "range": ["#D7191C","#ABD9E9","#2C7BB6"]}, "legend": null}}},
    {"data": {"name": "box"}, "transform": [{"filter": "datum.panel === 'E'"}], "mark": {"type": "tick", "color": "#333333", "thickness": 1.5, "size": 23},
     "encoding": {"x": {"field": "response", "type": "nominal", "sort": ["PD","SD","PR"]}, "y": {"field": "med", "type": "quantitative"}}},
    {"data": {"name": "pts"}, "transform": [{"filter": "datum.panel === 'E'"}], "mark": {"type": "circle", "color": "#000000", "opacity": 1, "size": 14},
     "encoding": {"x": {"field": "response", "type": "nominal", "sort": ["PD","SD","PR"]}, "y": {"field": "v", "type": "quantitative"}}},
    {"data": {"values": [{"p": "P=0.99"}]}, "mark": {"type": "text", "fontSize": 12}, "encoding": {"text": {"field": "p"}, "y": {"datum": 52.0}}}
   ]},
  {"width": 44, "height": 142, "data": {"values": []}, "mark": {"type": "point", "opacity": 0}, "encoding": {}},
  {"width": 91, "height": 142, "title": {"text": "F", "frame": "group", "anchor": "start", "dx": -42, "offset": 1},
   "layer": [
    {"data": {"name": "box"}, "transform": [{"filter": "datum.panel === 'F'"}], "mark": {"type": "rule", "color": "#333333"},
     "encoding": {"x": {"field": "response", "type": "nominal", "sort": ["PD","SD","PR"], "scale": {"paddingInner": 0, "paddingOuter": 0.1}, "axis": {"title": null, "labelAngle": 0, "labelFontSize": 11, "labelPadding": 2}},
      "y": {"field": "lo", "type": "quantitative", "scale": {"type": "log", "domain": [0.0068, 4.44], "nice": false}, "axis": {"title": "IFN-γ (pg/mL)", "values": [0.01, 0.1, 1], "format": ".2f", "labelFontSize": 10, "titleFontSize": 11.5, "titlePadding": 2}},
      "y2": {"field": "hi"}}},
    {"data": {"name": "box"}, "transform": [{"filter": "datum.panel === 'F'"}], "mark": {"type": "bar", "stroke": "#333333", "strokeWidth": 1, "width": {"band": 0.75}},
     "encoding": {"x": {"field": "response", "type": "nominal", "sort": ["PD","SD","PR"]}, "y": {"field": "q1", "type": "quantitative"}, "y2": {"field": "q3"},
      "fill": {"field": "response", "type": "nominal", "scale": {"domain": ["PD","SD","PR"], "range": ["#D7191C","#ABD9E9","#2C7BB6"]},
       "legend": {"title": "Response", "orient": "none", "legendX": 113, "legendY": 38, "symbolType": "M-1,-0.55H1V0.55H-1Z M-1,0H1 M0,-0.55V-0.95 M0,0.55V0.95", "symbolSize": 190, "symbolStrokeWidth": 1, "symbolStrokeColor": "#333333", "titleFontSize": 12.5, "labelFontSize": 12.5, "titlePadding": 3, "rowPadding": 1, "clipHeight": 13, "labelOffset": 5}}}},
    {"data": {"name": "box"}, "transform": [{"filter": "datum.panel === 'F'"}], "mark": {"type": "tick", "color": "#333333", "thickness": 1.5, "size": 21},
     "encoding": {"x": {"field": "response", "type": "nominal", "sort": ["PD","SD","PR"]}, "y": {"field": "med", "type": "quantitative"}}},
    {"data": {"name": "pts"}, "transform": [{"filter": "datum.panel === 'F'"}], "mark": {"type": "circle", "color": "#000000", "opacity": 1, "size": 14},
     "encoding": {"x": {"field": "response", "type": "nominal", "sort": ["PD","SD","PR"]}, "y": {"field": "v", "type": "quantitative"}}},
    {"data": {"values": [{"p": "P=0.47"}]}, "mark": {"type": "text", "fontSize": 12}, "encoding": {"text": {"field": "p"}, "y": {"datum": 4.65}}}
   ]}
 ], "spacing": 12, "bounds": "flush", "resolve": {"scale": {"color": "independent", "fill": "independent"}, "legend": {"color": "independent", "fill": "independent"}}},
 {"hconcat": [
  {"width": 179, "height": 120, "view": {"stroke": "#333333"}, "title": {"text": "G", "frame": "group", "anchor": "start", "dx": -27, "offset": 7},
   "layer": [
    {"data": {"name": "fit"}, "transform": [{"filter": "datum.panel === 'G'"}], "mark": {"type": "line", "strokeWidth": 1.8},
     "encoding": {
      "x": {"field": "ebv", "type": "quantitative", "scale": {"type": "log", "domain": [43, 5500000], "nice": false},
       "axis": {"title": "Plasma EBV DNA (copies/mL)", "titleFontWeight": "normal", "titleFontSize": 12.5, "titleColor": "#333333", "titlePadding": 2, "values": [100, 316.23, 1000, 3162.3, 10000, 31623, 100000, 316228, 1000000, 3162278], "labelExpr": "abs(log(datum.value)/LN10 - round(log(datum.value)/LN10)) < 0.01 ? '10' + ['⁰','¹','²','³','⁴','⁵','⁶','⁷'][round(log(datum.value)/LN10)] : ''", "grid": true, "gridColor": {"condition": {"test": "abs(log(datum.value)/LN10 - round(log(datum.value)/LN10)) < 0.01", "value": "#E2E2E2"}, "value": "#F0F0F0"}, "gridWidth": {"condition": {"test": "abs(log(datum.value)/LN10 - round(log(datum.value)/LN10)) < 0.01", "value": 1}, "value": 0.6}, "tickOpacity": {"condition": {"test": "abs(log(datum.value)/LN10 - round(log(datum.value)/LN10)) < 0.01", "value": 1}, "value": 0}, "domain": false, "labelFontSize": 12, "labelPadding": 1}},
      "y": {"field": "y", "type": "quantitative", "scale": {"domain": [-19, 209.5], "nice": false, "zero": false},
       "axis": {"title": "Tumor size (mm)", "titleFontSize": 11.5, "titlePadding": 1, "values": [0,25,50,75,100,125,150,175,200], "labelExpr": "datum.value % 50 === 0 ? datum.label : ''", "grid": true, "gridColor": {"condition": {"test": "datum.value % 50 === 0", "value": "#E2E2E2"}, "value": "#F0F0F0"}, "gridWidth": {"condition": {"test": "datum.value % 50 === 0", "value": 1}, "value": 0.6}, "tickOpacity": {"condition": {"test": "datum.value % 50 === 0", "value": 1}, "value": 0}, "domain": false, "labelFontSize": 10.5, "labelPadding": 1}},
      "color": {"field": "response", "type": "nominal", "scale": {"domain": ["PD","SD","PR"], "range": ["#E0282A","#9FD0E6","#2B74B2"]}, "legend": null}}},
    {"data": {"name": "sc"}, "transform": [{"filter": "datum.panel === 'G'"}], "mark": {"type": "circle", "size": 24, "opacity": 1},
     "encoding": {"x": {"field": "ebv", "type": "quantitative"}, "y": {"field": "y", "type": "quantitative"}, "color": {"field": "response", "type": "nominal", "legend": null}}},
    {"data": {"values": [{"t": "r=0.41\nP=0.0042\nn=46"}]}, "mark": {"type": "text", "align": "left", "baseline": "top", "lineBreak": "\n", "fontSize": 12.5, "lineHeight": 16},
     "encoding": {"text": {"field": "t"}, "x": {"datum": 66}, "y": {"datum": 197}}}
   ]},
  {"width": 11, "height": 120, "data": {"values": []}, "mark": {"type": "point", "opacity": 0}, "encoding": {}},
  {"width": 180, "height": 120, "view": {"stroke": "#333333"}, "title": {"text": "H", "frame": "group", "anchor": "start", "dx": -23, "offset": 7},
   "layer": [
    {"data": {"name": "fit"}, "transform": [{"filter": "datum.panel === 'H'"}], "mark": {"type": "line", "strokeWidth": 1.8},
     "encoding": {
      "x": {"field": "ebv", "type": "quantitative", "scale": {"type": "log", "domain": [35, 4500000], "nice": false},
       "axis": {"title": "Plasma EBV DNA (copies/mL)", "titleFontWeight": "normal", "titleFontSize": 12.5, "titleColor": "#333333", "titlePadding": 2, "values": [100, 316.23, 1000, 3162.3, 10000, 31623, 100000, 316228, 1000000, 3162278], "labelExpr": "abs(log(datum.value)/LN10 - round(log(datum.value)/LN10)) < 0.01 ? '10' + ['⁰','¹','²','³','⁴','⁵','⁶','⁷'][round(log(datum.value)/LN10)] : ''", "grid": true, "gridColor": {"condition": {"test": "abs(log(datum.value)/LN10 - round(log(datum.value)/LN10)) < 0.01", "value": "#E2E2E2"}, "value": "#F0F0F0"}, "gridWidth": {"condition": {"test": "abs(log(datum.value)/LN10 - round(log(datum.value)/LN10)) < 0.01", "value": 1}, "value": 0.6}, "tickOpacity": {"condition": {"test": "abs(log(datum.value)/LN10 - round(log(datum.value)/LN10)) < 0.01", "value": 1}, "value": 0}, "domain": false, "labelFontSize": 12, "labelPadding": 1}},
      "y": {"field": "y", "type": "quantitative", "scale": {"domain": [5.3, 60.5], "nice": false, "zero": false},
       "axis": {"title": "% of CD8+ T cells", "titleFontSize": 11.5, "titlePadding": 1, "values": [10,20,30,40,50,60], "labelExpr": "datum.value % 20 === 0 ? datum.label : ''", "grid": true, "gridColor": {"condition": {"test": "datum.value % 20 === 0", "value": "#E2E2E2"}, "value": "#F0F0F0"}, "gridWidth": {"condition": {"test": "datum.value % 20 === 0", "value": 1}, "value": 0.6}, "tickOpacity": {"condition": {"test": "datum.value % 20 === 0", "value": 1}, "value": 0}, "domain": false, "labelFontSize": 10.5, "labelPadding": 1}},
      "color": {"field": "response", "type": "nominal", "scale": {"domain": ["PD","SD","PR"], "range": ["#E0282A","#9FD0E6","#2B74B2"]}, "legend": null}}},
    {"data": {"name": "sc"}, "transform": [{"filter": "datum.panel === 'H'"}], "mark": {"type": "circle", "size": 24, "opacity": 1},
     "encoding": {"x": {"field": "ebv", "type": "quantitative"}, "y": {"field": "y", "type": "quantitative"}, "color": {"field": "response", "type": "nominal", "legend": null}}},
    {"data": {"values": [{"t": "r=\u22120.022\nP=0.88\nn=45"}]}, "mark": {"type": "text", "align": "left", "baseline": "top", "lineBreak": "\n", "fontSize": 12.5, "lineHeight": 16},
     "encoding": {"text": {"field": "t"}, "x": {"datum": 45}, "y": {"datum": 57.3}}}
   ]},
  {"width": 23, "height": 120, "data": {"values": []}, "mark": {"type": "point", "opacity": 0}, "encoding": {}},
  {"width": 165, "height": 120, "view": {"stroke": "#333333"}, "title": {"text": "I", "frame": "group", "anchor": "start", "dx": -28, "offset": 7},
   "layer": [
    {"data": {"name": "fit"}, "transform": [{"filter": "datum.panel === 'I'"}], "mark": {"type": "line", "strokeWidth": 1.8},
     "encoding": {
      "x": {"field": "ebv", "type": "quantitative", "scale": {"type": "log", "domain": [60, 3300000], "nice": false},
       "axis": {"title": "Plasma EBV DNA (copies/mL)", "titleFontWeight": "normal", "titleFontSize": 12.5, "titleColor": "#333333", "titlePadding": 2, "values": [100, 316.23, 1000, 3162.3, 10000, 31623, 100000, 316228, 1000000, 3162278], "labelExpr": "abs(log(datum.value)/LN10 - round(log(datum.value)/LN10)) < 0.01 ? '10' + ['⁰','¹','²','³','⁴','⁵','⁶','⁷'][round(log(datum.value)/LN10)] : ''", "grid": true, "gridColor": {"condition": {"test": "abs(log(datum.value)/LN10 - round(log(datum.value)/LN10)) < 0.01", "value": "#E2E2E2"}, "value": "#F0F0F0"}, "gridWidth": {"condition": {"test": "abs(log(datum.value)/LN10 - round(log(datum.value)/LN10)) < 0.01", "value": 1}, "value": 0.6}, "tickOpacity": {"condition": {"test": "abs(log(datum.value)/LN10 - round(log(datum.value)/LN10)) < 0.01", "value": 1}, "value": 0}, "domain": false, "labelFontSize": 12, "labelPadding": 1}},
      "y": {"field": "y", "type": "quantitative", "scale": {"domain": [-1.3, 21.3], "nice": false, "zero": false},
       "axis": {"title": "TMB (mutations/Mb)", "titleFontSize": 11.5, "titlePadding": 1, "values": [0,5,10,15,20], "labelExpr": "datum.value % 10 === 0 ? datum.label : ''", "grid": true, "gridColor": {"condition": {"test": "datum.value % 10 === 0", "value": "#E2E2E2"}, "value": "#F0F0F0"}, "gridWidth": {"condition": {"test": "datum.value % 10 === 0", "value": 1}, "value": 0.6}, "tickOpacity": {"condition": {"test": "datum.value % 10 === 0", "value": 1}, "value": 0}, "domain": false, "labelFontSize": 10.5, "labelPadding": 1}},
      "color": {"field": "response", "type": "nominal", "scale": {"domain": ["PD","SD","PR"], "range": ["#E0282A","#9FD0E6","#2B74B2"]},
       "legend": {"title": "Response", "orient": "none", "legendX": 176, "legendY": 12, "symbolType": "M-1,0H1M0.3,0A0.3,0.3 0 1,1 -0.3,0A0.3,0.3 0 1,1 0.3,0", "symbolSize": 230, "symbolStrokeWidth": 2.4, "titleFontSize": 11.5, "labelFontSize": 12.5, "titlePadding": 13, "rowPadding": 1, "clipHeight": 15, "labelOffset": 5}}}},
    {"data": {"name": "sc"}, "transform": [{"filter": "datum.panel === 'I'"}], "mark": {"type": "circle", "size": 24, "opacity": 1},
     "encoding": {"x": {"field": "ebv", "type": "quantitative"}, "y": {"field": "y", "type": "quantitative"}, "color": {"field": "response", "type": "nominal", "legend": null}}},
    {"data": {"values": [{"t": "r=\u22120.14\nP=0.39\nn=36"}]}, "mark": {"type": "text", "align": "left", "baseline": "top", "lineBreak": "\n", "fontSize": 12.5, "lineHeight": 16},
     "encoding": {"text": {"field": "t"}, "x": {"datum": 75}, "y": {"datum": 19.9}}}
   ]}
 ], "spacing": 12, "bounds": "flush", "resolve": {"scale": {"color": "independent", "fill": "independent"}, "legend": {"color": "independent", "fill": "independent"}}}
 ], "spacing": 21, "resolve": {"scale": {"color": "independent", "fill": "independent"}, "legend": {"color": "independent", "fill": "independent"}}}
],
"spacing": 14
}
